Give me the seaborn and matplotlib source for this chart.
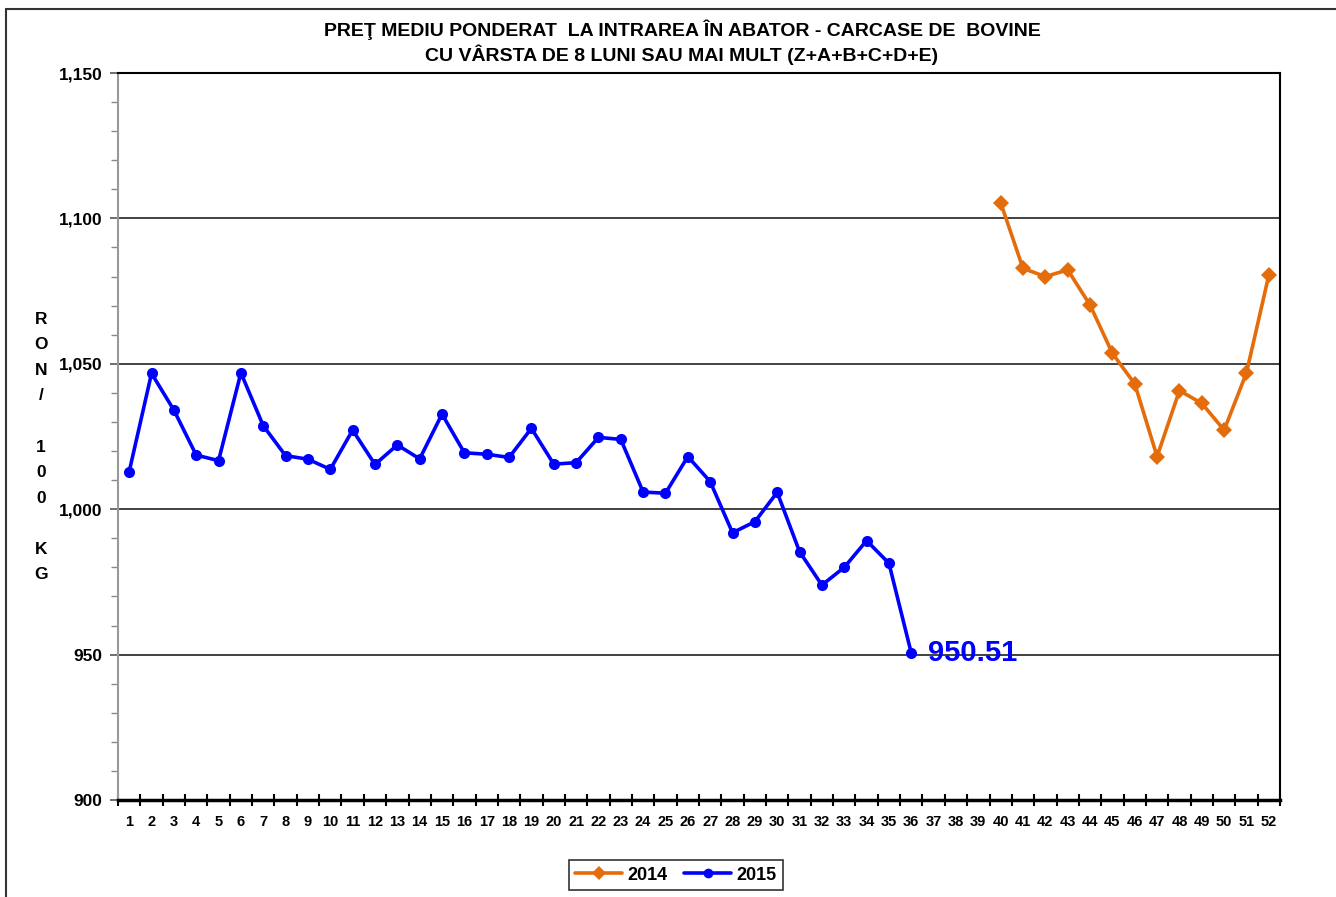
import matplotlib
matplotlib.use("Agg")
import matplotlib.pyplot as plt
from matplotlib.lines import Line2D
from matplotlib.ticker import MultipleLocator
import numpy as np
import pandas as pd
import seaborn as sns

# weekly prices, RON / 100 kg
weeks_2015 = list(range(1, 37))
price_2015 = [1012.9, 1046.7, 1034.1, 1018.6, 1016.7, 1046.9, 1028.7, 1018.4, 1017.2, 1013.7,
              1027.2, 1015.4, 1022.1, 1017.3, 1032.7, 1019.4, 1018.9, 1017.8, 1027.8, 1015.5,
              1016.0, 1024.7, 1024.0, 1005.9, 1005.5, 1018.1, 1009.5, 991.9, 995.7, 1005.8,
              985.4, 973.9, 980.0, 989.2, 981.4, 950.51]
weeks_2014 = list(range(40, 53))
price_2014 = [1105.4, 1082.8, 1080.0, 1082.3, 1070.2, 1053.6, 1043.1, 1018.1, 1040.8, 1036.4,
              1027.2, 1046.9, 1080.5]
week_labels = [str(w) for w in range(1, 53)]
yticks = [900, 950, 1000, 1050, 1100, 1150]
ytick_labels = ["900", "950", "1,000", "1,050", "1,100", "1,150"]
last_label = "950.51"

title = ("PREŢ MEDIU PONDERAT  LA INTRAREA ÎN ABATOR - CARCASE DE  BOVINE\n"
         "CU VÂRSTA DE 8 LUNI SAU MAI MULT (Z+A+B+C+D+E)")

df = pd.DataFrame({
    "week": weeks_2014 + weeks_2015,
    "price": price_2014 + price_2015,
    "year": ["2014"] * len(weeks_2014) + ["2015"] * len(weeks_2015),
})

sns.set_style("white")
plt.rcParams["font.family"] = ["Liberation Sans", "DejaVu Sans"]
plt.rcParams["font.weight"] = "bold"
plt.rcParams["text.color"] = "black"
plt.rcParams["xtick.color"] = "black"
plt.rcParams["ytick.color"] = "black"

fig = plt.figure(figsize=(13.36, 8.97), dpi=100)
ax = fig.add_axes([118 / 1336, 1 - 800 / 897, (1280 - 118) / 1336, (800 - 73) / 897])

orange = "#E46C0A"
blue = "#0000FF"
sns.lineplot(data=df, x="week", y="price", hue="year", style="year",
             hue_order=["2014", "2015"], style_order=["2014", "2015"],
             palette={"2014": orange, "2015": blue},
             markers={"2014": "D", "2015": "o"}, dashes=False,
             linewidth=2.6, markersize=8, markeredgewidth=0, ax=ax, legend=False)

ax.set_xlim(0.5, 52.5)
ax.set_ylim(900, 1150)
ax.set_xlabel("")
ax.set_ylabel("")

# x axis: ticks between categories, labels on categories
ax.set_xticks(np.arange(0.5, 53, 1.0))
ax.set_xticklabels([])
ax.set_xticks(range(1, 53), week_labels, minor=True)
ax.tick_params(axis="x", which="major", bottom=True, direction="inout", length=8,
               width=1.5, color="black")
ax.tick_params(axis="x", which="minor", bottom=True, length=0, labelsize=10.5, pad=11,
               labelcolor="black")

ax.set_yticks(yticks, ytick_labels)
ax.yaxis.set_minor_locator(MultipleLocator(10))
ax.tick_params(axis="y", which="major", left=True, direction="out", length=6, width=1.2,
               color="#555555", labelsize=12.5, pad=5, labelcolor="black")
ax.tick_params(axis="y", which="minor", left=True, direction="out", length=5, width=1,
               color="#888888")
for lab in ax.get_xticklabels(minor=True) + ax.get_yticklabels():
    lab.set_fontweight("bold")

ax.yaxis.grid(True, which="major", color="#333333", linewidth=1.3)
ax.set_axisbelow(True)

ax.spines["top"].set_color("black")
ax.spines["top"].set_linewidth(1.5)
ax.spines["right"].set_color("black")
ax.spines["right"].set_linewidth(1.5)
ax.spines["left"].set_color("#999999")
ax.spines["left"].set_linewidth(1.5)
ax.spines["bottom"].set_color("black")
ax.spines["bottom"].set_linewidth(2.5)

ax.annotate(last_label, xy=(weeks_2015[-1], price_2015[-1]), xytext=(12, 0),
            textcoords="offset points", color=blue, fontsize=21, fontweight="bold",
            va="center", ha="left")

fig.text(682 / 1336, 1 - 42 / 897, title, ha="center", va="center",
         fontsize=14, fontweight="bold", linespacing=1.3, color="black")

ylab = "R\nO\nN\n/\n\n1\n0\n0\n\nK\nG"
fig.text(41 / 1336, 1 - 447 / 897, ylab, ha="center", va="center",
         fontsize=12.5, fontweight="bold", linespacing=1.88, color="black")

handles = [Line2D([], [], color=orange, marker="D", lw=2.6, markersize=7, markeredgewidth=0),
           Line2D([], [], color=blue, marker="o", lw=2.6, markersize=7, markeredgewidth=0)]
leg = fig.legend(handles, ["2014", "2015"], loc="center", ncol=2,
                 bbox_to_anchor=(676 / 1336, 1 - 875 / 897), frameon=True,
                 fancybox=False, edgecolor="black", fontsize=13,
                 handlelength=2.6, handletextpad=0.3, columnspacing=0.9,
                 borderpad=0.35)
leg.get_frame().set_linewidth(1.2)
for t in leg.get_texts():
    t.set_fontweight("bold")
    t.set_color("black")

# outer chart frame (left and top edges)
fx = 6 / 1336
fy = 1 - 9 / 897
fig.add_artist(Line2D([fx, fx], [0, fy], transform=fig.transFigure, color="#333333", lw=1.5))
fig.add_artist(Line2D([fx, 1], [fy, fy], transform=fig.transFigure, color="#333333", lw=1.5))

fig.savefig("out.png", dpi=100)
